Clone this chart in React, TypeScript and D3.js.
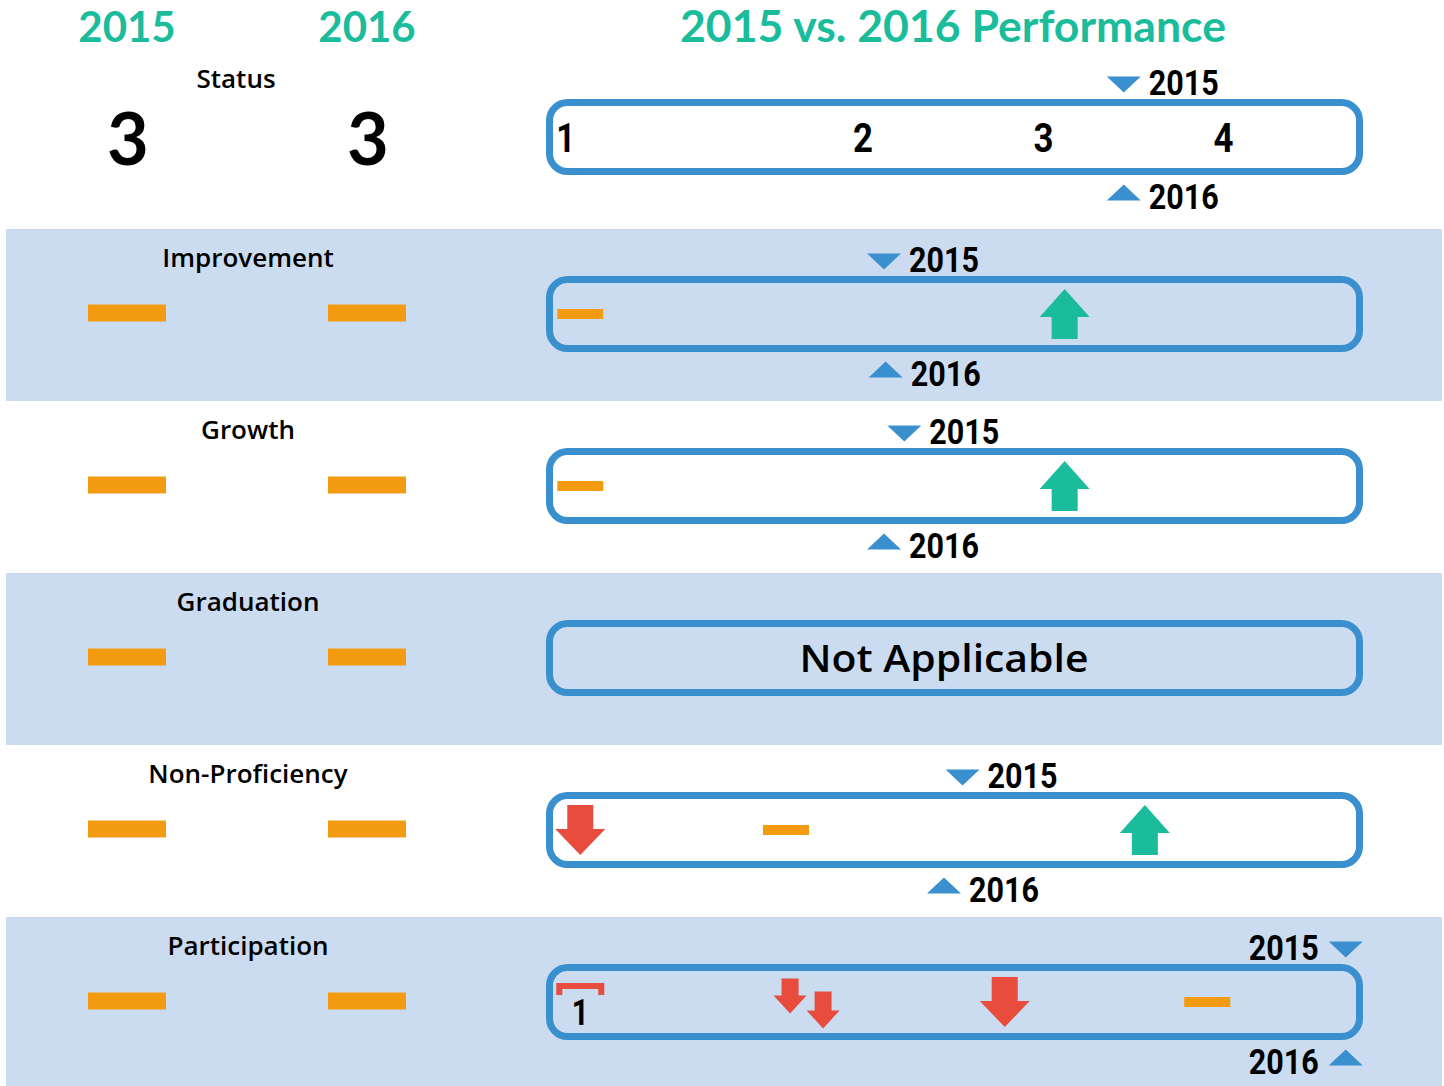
import React from "react";
import * as d3 from "d3";

// ---------- data ----------
const yearLabels = ["2015", "2016"];
const title = "2015 vs. 2016 Performance";
const rowLabels = ["Status", "Improvement", "Growth", "Graduation", "Non-Proficiency", "Participation"];
const statusValues = [3, 3]; // 2015, 2016
const leftIcon2015 = ["value", "flat", "flat", "flat", "flat", "flat"];
const leftIcon2016 = ["value", "flat", "flat", "flat", "flat", "flat"];
const statusTicks = ["1", "2", "3", "4"];
const statusTickPos = [2.0, 38.7, 61.0, 83.2];
const marker2015 = [70.9, 41.3, 43.8, null, 51.0, 98.3];
const marker2016 = [70.9, 41.5, 41.3, null, 48.7, 98.3];
const markerSide = ["right", "right", "right", null, "right", "left"];
const notApplicableRows = ["Graduation"];
const notApplicableText = "Not Applicable";
const iconRow = ["Improvement", "Improvement", "Growth", "Growth", "Non-Proficiency", "Non-Proficiency", "Non-Proficiency", "Participation", "Participation", "Participation", "Participation"];
const iconType = ["flat", "up", "flat", "up", "down", "flat", "up", "one", "doubleDown", "down", "flat"];
const iconPos = [3.8, 63.6, 3.8, 63.6, 3.8, 29.2, 73.5, 3.8, 31.8, 56.2, 81.2];

// ---------- style ----------
const W = 1444, H = 1086;
const TEAL = "#1abc9c", ORANGE = "#f39c12", RED = "#e74c3c", BLUE = "#3a8fcf", BAND = "#cbdcf0";
const FONT = "Lato, 'Open Sans', sans-serif";
const LABEL = "'Open Sans', Lato, sans-serif";
const NARROW = "Roboto, 'Liberation Sans', sans-serif";

const rowY = d3.scaleBand<string>().domain(rowLabels).range([57, 57 + 172 * rowLabels.length]);
const xBox = d3.scaleLinear().domain([0, 100]).range([549.5, 1359.5]);
const xYear = d3.scalePoint<string>().domain(yearLabels).range([127, 367]);

function arrowPath(cx: number, cy: number, w: number, h: number, head: number, shaft: number, up: boolean) {
  const p = d3.path();
  const s = up ? 1 : -1;
  const tip = cy - s * h / 2;
  const base = cy + s * h / 2;
  const headBase = tip + s * head;
  p.moveTo(cx, tip);
  p.lineTo(cx + w / 2, headBase);
  p.lineTo(cx + shaft / 2, headBase);
  p.lineTo(cx + shaft / 2, base);
  p.lineTo(cx - shaft / 2, base);
  p.lineTo(cx - shaft / 2, headBase);
  p.lineTo(cx - w / 2, headBase);
  p.closePath();
  return p.toString();
}

function tri(cx: number, tipY: number, down: boolean) {
  const p = d3.path();
  const w = 34, h = 16;
  const by = down ? tipY - h : tipY + h;
  p.moveTo(cx - w / 2, by);
  p.lineTo(cx + w / 2, by);
  p.lineTo(cx, tipY);
  p.closePath();
  return p.toString();
}

function Icon({ type, cx, cy }: { type: string; cx: number; cy: number }) {
  if (type === "flat") return <rect x={cx - 23} y={cy - 5} width={46} height={10} fill={ORANGE} />;
  if (type === "up") return <path d={arrowPath(cx, cy, 50, 50, 28, 26, true)} fill={TEAL} />;
  if (type === "down") return <path d={arrowPath(cx, cy, 50, 50, 26, 26, false)} fill={RED} />;
  if (type === "doubleDown")
    return (
      <g fill={RED}>
        <path d={arrowPath(cx - 17, cy - 6, 33, 35, 18, 17, false)} />
        <path d={arrowPath(cx + 16, cy + 8, 33, 37, 18, 17, false)} />
      </g>
    );
  if (type === "one")
    return (
      <g>
        <path
          d={`M${cx - 24},${cy - 19}H${cx + 24}V${cy - 7}H${cx + 18}V${cy - 13}H${cx - 18}V${cy - 7}H${cx - 24}Z`}
          fill={RED}
        />
        <text x={cx} y={cy + 23} textAnchor="middle" fontFamily={NARROW} fontSize={36} fontWeight={700} fill="#000"
          textLength={17} lengthAdjust="spacingAndGlyphs">1</text>
      </g>
    );
  return null;
}

function YearTag({ label, x, y, side }: { label: string; x: number; y: number; side: string | null }) {
  const w = 70;
  const x0 = side === "left" ? x - 27 - w : x + 25;
  return (
    <text x={x0} y={y} fontFamily={NARROW} fontWeight={700} fontSize={35} fill="#000"
      textLength={w} lengthAdjust="spacingAndGlyphs">{label}</text>
  );
}

export default function App() {
  return (
    <div style={{ position: "absolute", left: 0, top: 0 }}>
      <svg width={W} height={H} style={{ display: "block", background: "#fff" }}>
        {rowLabels.map((r, i) => i % 2 === 1 ? (
          <rect key={"band" + r} x={6} y={rowY(r)!} width={1436} height={rowY.bandwidth()} fill={BAND} />
        ) : null)}

        {/* headers */}
        {yearLabels.map((y) => (
          <text key={"h" + y} x={xYear(y)} y={42} textAnchor="middle" fontFamily={FONT} fontWeight={700} fontSize={42} fill={TEAL}>{y}</text>
        ))}
        <text x={953} y={42} textAnchor="middle" fontFamily={FONT} fontWeight={700} fontSize={44} fill={TEAL}
          textLength={546} lengthAdjust="spacingAndGlyphs">{title}</text>

        {rowLabels.map((r, i) => {
          const top = rowY(r)!;
          const cy = i === 0 ? top + 80 : top + 85;
          const boxTop = cy - 34.5;
          const boxBot = cy + 34.5;
          const isNA = notApplicableRows.includes(r);
          const m15 = marker2015[i];
          const m16 = marker2016[i];
          const side = markerSide[i];
          return (
            <g key={r}>
              <text
                x={i === 0 ? 236 : 248}
                y={i === 0 ? top + 31 : top + 38}
                textAnchor="middle" fontFamily={LABEL} fontWeight={600} fontSize={26} fill="#000"
              >{r}</text>
              {[leftIcon2015[i], leftIcon2016[i]].map((t, k) =>
                t === "value" ? (
                  <text key={k} x={xYear(yearLabels[k])! + 1} y={top + 108} textAnchor="middle" fontFamily={FONT} fontWeight={700} fontSize={72} fill="#000">{statusValues[k]}</text>
                ) : (
                  <rect key={k} x={xYear(yearLabels[k])! - 39} y={top + 84 - 8.5} width={78} height={17} fill={ORANGE} />
                )
              )}
              <rect x={xBox(0)} y={boxTop} width={xBox(100) - xBox(0)} height={boxBot - boxTop} rx={18} ry={18}
                fill="none" stroke={BLUE} strokeWidth={7} />
              {i === 0 && statusTicks.map((t, k) => (
                <text key={t} x={xBox(statusTickPos[k])} y={cy + 15} textAnchor="middle" fontFamily={NARROW} fontWeight={700} fontSize={40} fill="#000"
                  textLength={t === "1" ? 19 : 20} lengthAdjust="spacingAndGlyphs">{t}</text>
              ))}
              {isNA && (
                <text x={944} y={cy + 14} textAnchor="middle" fontFamily={LABEL} fontWeight={600} fontSize={38} fill="#000"
                  textLength={289} lengthAdjust="spacingAndGlyphs">{notApplicableText}</text>
              )}
              {iconRow.map((ir, k) => ir === r ? (
                <Icon key={k} type={iconType[k]} cx={xBox(iconPos[k])} cy={cy} />
              ) : null)}
              {m15 != null && (
                <g>
                  <path d={tri(xBox(m15), boxTop - 10, true)} fill={BLUE} />
                  <YearTag label="2015" x={xBox(m15)} y={boxTop - 8} side={side} />
                </g>
              )}
              {m16 != null && (
                <g>
                  <path d={tri(xBox(m16), boxBot + 13, false)} fill={BLUE} />
                  <YearTag label="2016" x={xBox(m16)} y={boxBot + 37} side={side} />
                </g>
              )}
            </g>
          );
        })}
      </svg>
    </div>
  );
}
